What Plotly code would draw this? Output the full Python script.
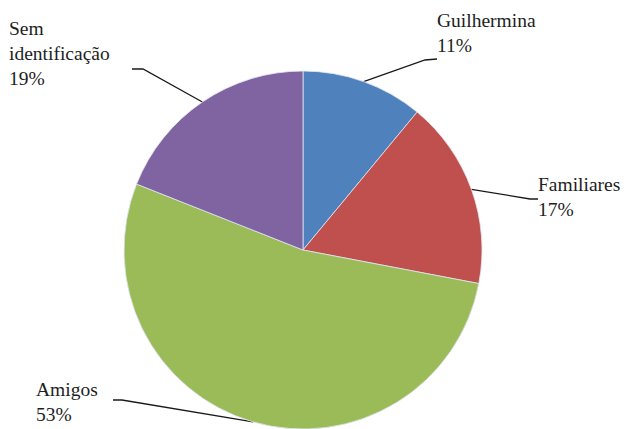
import math
import plotly.graph_objects as go

# Distribution of who sent the letters
categories = ["Guilhermina", "Familiares", "Amigos", "Sem identificação"]
percent_labels = ["11%", "17%", "53%", "19%"]
values = [11, 17, 53, 19]
colors = ["#4F81BD", "#C0504D", "#9BBB59", "#8064A2"]

W, H = 636, 429
CX, CY, R = 303, 250, 179          # pie centre and radius in pixels

# label block: top-left corner (px) and leader-line elbow / end (px)
label_layout = {
    "Guilhermina": dict(x=437, y=12, elbow=(425, 60), stub=(437, 59)),
    "Familiares": dict(x=538, y=176, elbow=(530, 199), stub=(538, 199)),
    "Amigos": dict(x=36, y=381, elbow=(122, 400), stub=(113, 400)),
    "Sem identificação": dict(x=9, y=20, elbow=(143, 69), stub=(132, 69)),
}

FONT = "Liberation Serif"
TEXT = "#1e1e1e"
LINE = "#1a1a1a"

fig = go.Figure()

# leader lines and labels live on a hidden pixel-space cartesian layer
total = sum(values)
cum = 0
lx, ly, tx, ty, texts = [], [], [], [], []
for name, val, pct in zip(categories, values, percent_labels):
    mid = (cum + val / 2) / total * 2 * math.pi
    cum += val
    edge = (CX + R * math.sin(mid), CY - R * math.cos(mid))
    lay = label_layout[name]
    for p in (edge, lay["elbow"], lay["stub"]):
        lx.append(p[0])
        ly.append(p[1])
    lx.append(None)
    ly.append(None)
    tx.append(lay["x"])
    ty.append(lay["y"])
    texts.append(name.replace(" ", "<br>") + "<br>" + pct)

fig.add_trace(go.Scatter(x=lx, y=ly, mode="lines", line=dict(color=LINE, width=1.3),
                         hoverinfo="skip", showlegend=False))
fig.add_trace(go.Scatter(x=tx, y=ty, mode="text", text=texts, textposition="bottom right",
                         textfont=dict(family=FONT, size=19.5, color=TEXT),
                         hoverinfo="skip", showlegend=False))

fig.add_trace(
    go.Pie(
        labels=categories,
        values=values,
        sort=False,
        direction="clockwise",
        marker=dict(colors=colors, line=dict(color="#dfe6f2", width=0.8)),
        textinfo="none",
        showlegend=False,
        domain=dict(x=[(CX - R) / W, (CX + R) / W], y=[1 - (CY + R) / H, 1 - (CY - R) / H]),
    )
)

fig.update_layout(
    width=W, height=H,
    margin=dict(l=0, r=0, t=0, b=0),
    xaxis=dict(range=[0, W], visible=False, fixedrange=True),
    yaxis=dict(range=[H, 0], visible=False, fixedrange=True),
    font=dict(family=FONT, size=19.5, color=TEXT),
    showlegend=False,
    paper_bgcolor="white",
    plot_bgcolor="white",
)

fig.write_html("out.html")
